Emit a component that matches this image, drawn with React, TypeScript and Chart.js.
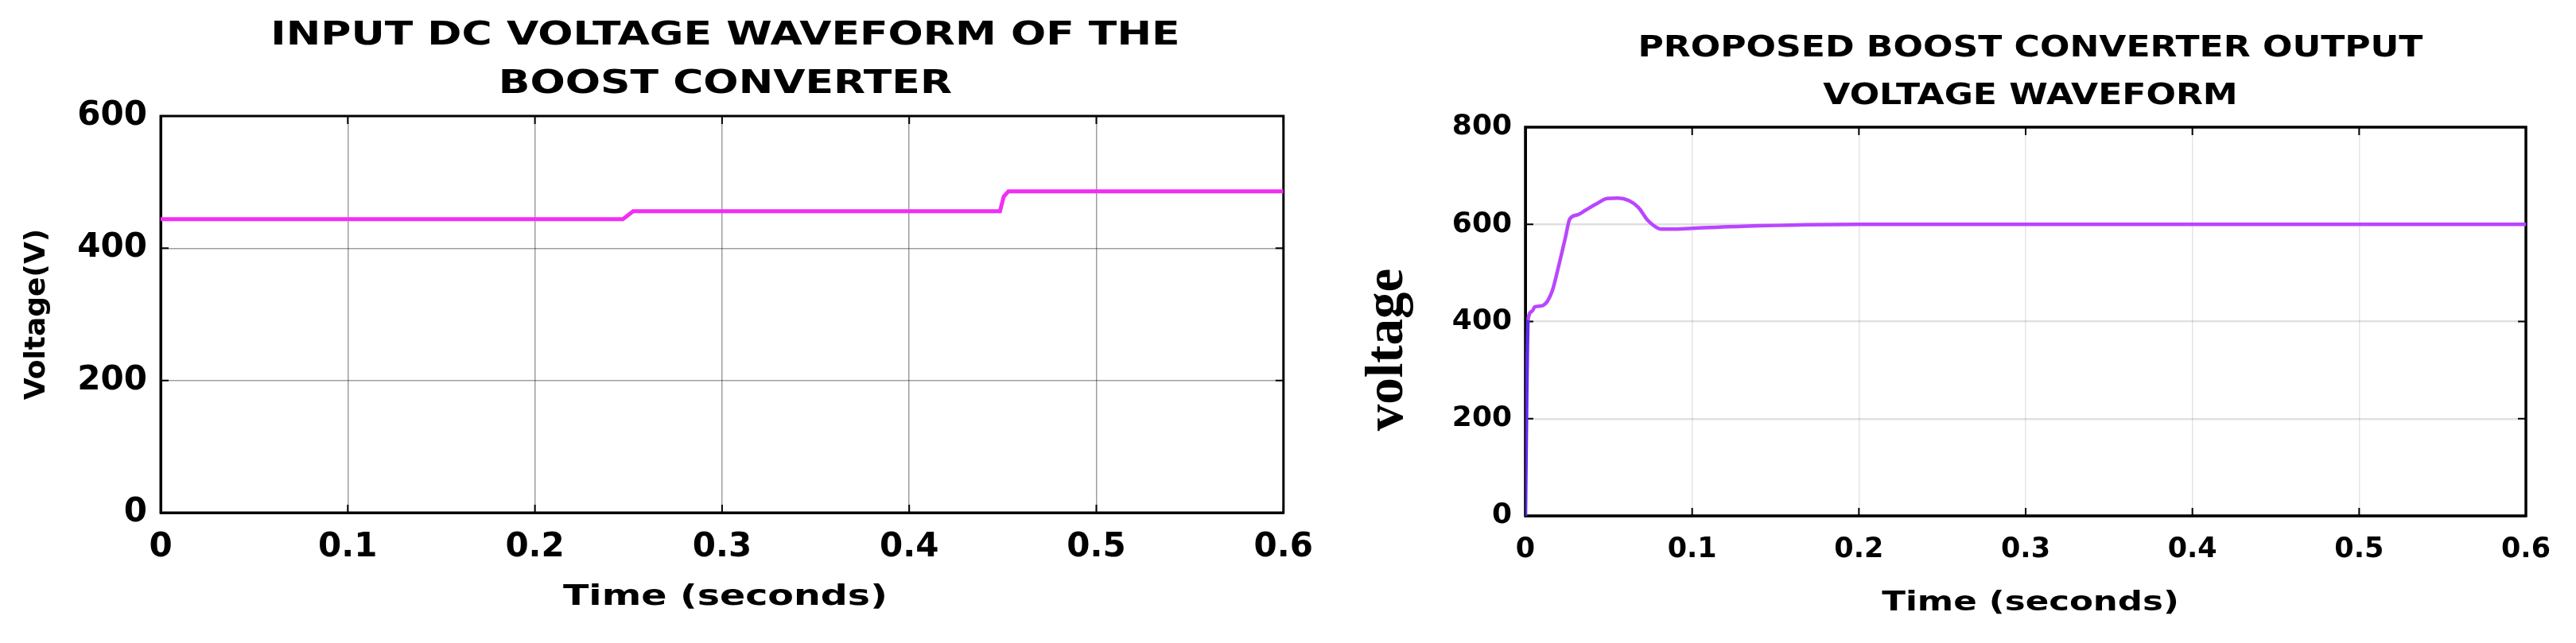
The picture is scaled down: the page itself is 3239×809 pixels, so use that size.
import React, { useEffect, useRef } from 'react';
import { Chart, registerables } from 'chart.js';

Chart.register(...registerables);

// ---------- data ----------
const inputTime = [0, 0.247, 0.2525, 0.4485, 0.4505, 0.453, 0.6];
const inputVoltage = [444, 444, 456, 456, 478, 486, 486];

const outputTime = [0, 0.0008, 0.0016, 0.004, 0.0056, 0.0105, 0.016, 0.02, 0.024, 0.0266, 0.0315, 0.036, 0.043, 0.049, 0.0556, 0.062, 0.0677, 0.0734, 0.078, 0.0815, 0.088, 0.1, 0.13, 0.2, 0.3, 0.4, 0.5, 0.6];
const outputVoltage = [0, 250, 404, 421, 430, 433, 462, 515, 573, 611, 620, 629, 643, 653, 654, 649, 635, 608, 595, 590, 590, 592, 596, 600, 600, 600, 600, 600];

const timeTicks = [0, 0.1, 0.2, 0.3, 0.4, 0.5, 0.6];
const timeTickLabels = ['0', '0.1', '0.2', '0.3', '0.4', '0.5', '0.6'];
const inputVoltTicks = [0, 200, 400, 600];
const outputVoltTicks = [0, 200, 400, 600, 800];

const leftTitle = ['INPUT DC VOLTAGE WAVEFORM OF THE', 'BOOST CONVERTER'];
const rightTitle = ['PROPOSED BOOST CONVERTER OUTPUT', 'VOLTAGE WAVEFORM'];
const xAxisTitle = 'Time (seconds)';
const leftYTitle = 'Voltage(V)';
const rightYTitle = 'voltage';

const SANS = "'DejaVu Sans', sans-serif";

function stretchText(ctx: any, text: string, cx: number, cy: number, font: string, sx: number) {
  ctx.save();
  ctx.font = font;
  ctx.textAlign = 'center';
  ctx.textBaseline = 'middle';
  ctx.translate(cx, cy);
  ctx.scale(sx, 1);
  ctx.fillText(text, 0, 0);
  ctx.restore();
}

function makeDecor(cfg: any) {
  return {
    id: 'decor',
    beforeDatasetsDraw(chart: any) {
      const { ctx, chartArea: a, scales } = chart;
      ctx.save();
      ctx.strokeStyle = '#000';
      ctx.lineWidth = 2;
      const L = cfg.tickLen;
      ctx.beginPath();
      scales.x.ticks.forEach((t: any) => {
        const px = scales.x.getPixelForValue(t.value);
        ctx.moveTo(px, a.bottom); ctx.lineTo(px, a.bottom - L);
        ctx.moveTo(px, a.top); ctx.lineTo(px, a.top + L);
      });
      scales.y.ticks.forEach((t: any) => {
        const py = scales.y.getPixelForValue(t.value);
        ctx.moveTo(a.left, py); ctx.lineTo(a.left + L, py);
        ctx.moveTo(a.right, py); ctx.lineTo(a.right - L, py);
      });
      ctx.stroke();
      ctx.lineWidth = cfg.frameWidth;
      ctx.strokeRect(a.left, a.top, a.right - a.left, a.bottom - a.top);
      ctx.restore();
    },
    afterDraw(chart: any) {
      const { ctx, chartArea: a } = chart;
      const cx = (a.left + a.right) / 2 + cfg.shift;
      ctx.save();
      ctx.fillStyle = '#000';
      cfg.titleLines.forEach((line: string, i: number) =>
        stretchText(ctx, line, cx, cfg.titleY[i], cfg.titleFont, cfg.titleStretch));
      stretchText(ctx, cfg.xTitle, cx, cfg.xTitleY, cfg.xTitleFont, cfg.xTitleStretch);
      if (cfg.yTitle) {
        ctx.save();
        ctx.translate(cfg.yTitleX, cfg.yTitleY);
        ctx.rotate(-Math.PI / 2);
        ctx.font = cfg.yTitleFont;
        ctx.textAlign = 'center';
        ctx.textBaseline = 'alphabetic';
        ctx.fillText(cfg.yTitle, 0, 0);
        ctx.restore();
      }
      ctx.restore();
    },
  };
}

function timeLabel(value: number) {
  const i = timeTicks.findIndex((t) => Math.abs(t - value) < 1e-9);
  return i >= 0 ? timeTickLabels[i] : '';
}

function buildLeft(canvas: HTMLCanvasElement) {
  return new Chart(canvas, {
    type: 'line',
    data: {
      datasets: [{
        data: inputTime.map((t, i) => ({ x: t, y: inputVoltage[i] })),
        borderColor: 'rgb(242, 45, 245)',
        borderWidth: 5,
        pointRadius: 0,
        tension: 0,
      }],
    },
    options: {
      responsive: false,
      animation: false,
      events: [],
      layout: { padding: { top: 146, left: 0, right: 46, bottom: 0 } },
      plugins: { legend: { display: false }, tooltip: { enabled: false }, title: { display: false } },
      scales: {
        x: {
          type: 'linear', min: 0, max: 0.6,
          afterBuildTicks: (s: any) => { s.ticks = timeTicks.map((v) => ({ value: v })); },
          afterFit: (s: any) => { s.height = 164; },
          ticks: { callback: (v: any) => timeLabel(v), autoSkip: false, maxRotation: 0, color: '#000', padding: 19, font: { family: SANS, size: 42, weight: 'bold' } },
          grid: { color: 'rgba(0,0,0,0.38)', lineWidth: 1.5, drawTicks: false },
          border: { display: true, color: '#000', width: 3 },
        },
        y: {
          type: 'linear', min: 0, max: 600,
          afterBuildTicks: (s: any) => { s.ticks = inputVoltTicks.map((v) => ({ value: v })); },
          afterFit: (s: any) => { s.width = 202; },
          ticks: { callback: (v: any) => String(v), autoSkip: false, color: '#000', padding: 17, font: { family: SANS, size: 42, weight: 'bold' } },
          grid: { color: 'rgba(0,0,0,0.38)', lineWidth: 1.5, drawTicks: false },
          border: { display: true, color: '#000', width: 3 },
          title: { display: true, text: leftYTitle, color: '#000', font: { family: SANS, size: 36, weight: 'bold' }, padding: { top: 25, bottom: 0 } },
        },
      },
    },
    plugins: [makeDecor({
      tickLen: 10, frameWidth: 3, shift: 4,
      titleLines: leftTitle, titleY: [45, 106], titleFont: `bold 41px ${SANS}`, titleStretch: 1.27,
      xTitle: xAxisTitle, xTitleY: 752, xTitleFont: `bold 36px ${SANS}`, xTitleStretch: 1.32,
    })],
  } as any);
}

function buildRight(canvas: HTMLCanvasElement) {
  return new Chart(canvas, {
    type: 'line',
    data: {
      datasets: [{
        data: outputTime.map((t, i) => ({ x: t, y: outputVoltage[i] })),
        borderColor: 'rgb(185, 70, 255)',
        borderWidth: 4.5,
        pointRadius: 0,
        cubicInterpolationMode: 'monotone',
        segment: { borderColor: (c: any) => (c.p0.parsed.x < 0.0015 ? 'rgb(95, 40, 240)' : undefined) },
      }],
    },
    options: {
      responsive: false,
      animation: false,
      events: [],
      layout: { padding: { top: 160, left: 0, right: 63, bottom: 0 } },
      plugins: { legend: { display: false }, tooltip: { enabled: false }, title: { display: false } },
      scales: {
        x: {
          type: 'linear', min: 0, max: 0.6,
          afterBuildTicks: (s: any) => { s.ticks = timeTicks.map((v) => ({ value: v })); },
          afterFit: (s: any) => { s.height = 160; },
          ticks: { callback: (v: any) => timeLabel(v), autoSkip: false, maxRotation: 0, color: '#000', padding: 22, font: { family: SANS, size: 35, weight: 'bold' } },
          grid: { color: 'rgba(0,0,0,0.1)', lineWidth: 1.5, drawTicks: false },
          border: { display: true, color: '#000', width: 3 },
        },
        y: {
          type: 'linear', min: 0, max: 800,
          afterBuildTicks: (s: any) => { s.ticks = outputVoltTicks.map((v) => ({ value: v })); },
          afterFit: (s: any) => { s.width = 248; },
          ticks: { callback: (v: any) => String(v), autoSkip: false, color: '#000', padding: 17, font: { family: SANS, size: 36, weight: 'bold' } },
          grid: { color: 'rgba(0,0,0,0.12)', lineWidth: 2.5, drawTicks: false },
          border: { display: true, color: '#000', width: 3 },
        },
      },
    },
    plugins: [makeDecor({
      tickLen: 10, frameWidth: 3.5, shift: 6,
      titleLines: rightTitle, titleY: [61, 121], titleFont: `bold 38px ${SANS}`, titleStretch: 1.16,
      xTitle: xAxisTitle, xTitleY: 759, xTitleFont: `bold 34px ${SANS}`, xTitleStretch: 1.28,
      yTitle: rightYTitle, yTitleX: 93, yTitleY: 440, yTitleFont: `bold 67px 'Liberation Serif', serif`,
    })],
  } as any);
}

export default function App() {
  const leftRef = useRef<HTMLCanvasElement | null>(null);
  const rightRef = useRef<HTMLCanvasElement | null>(null);

  useEffect(() => {
    const a = buildLeft(leftRef.current as HTMLCanvasElement);
    const b = buildRight(rightRef.current as HTMLCanvasElement);
    return () => { a.destroy(); b.destroy(); };
  }, []);

  return (
    <div style={{ position: 'absolute', left: 0, top: 0, width: 3239, height: 809, background: '#fff', overflow: 'hidden' }}>
      <canvas ref={leftRef} width={1670} height={809} style={{ position: 'absolute', left: 0, top: 0, width: 1670, height: 809 }} />
      <canvas ref={rightRef} width={1569} height={809} style={{ position: 'absolute', left: 1670, top: 0, width: 1569, height: 809 }} />
    </div>
  );
}
